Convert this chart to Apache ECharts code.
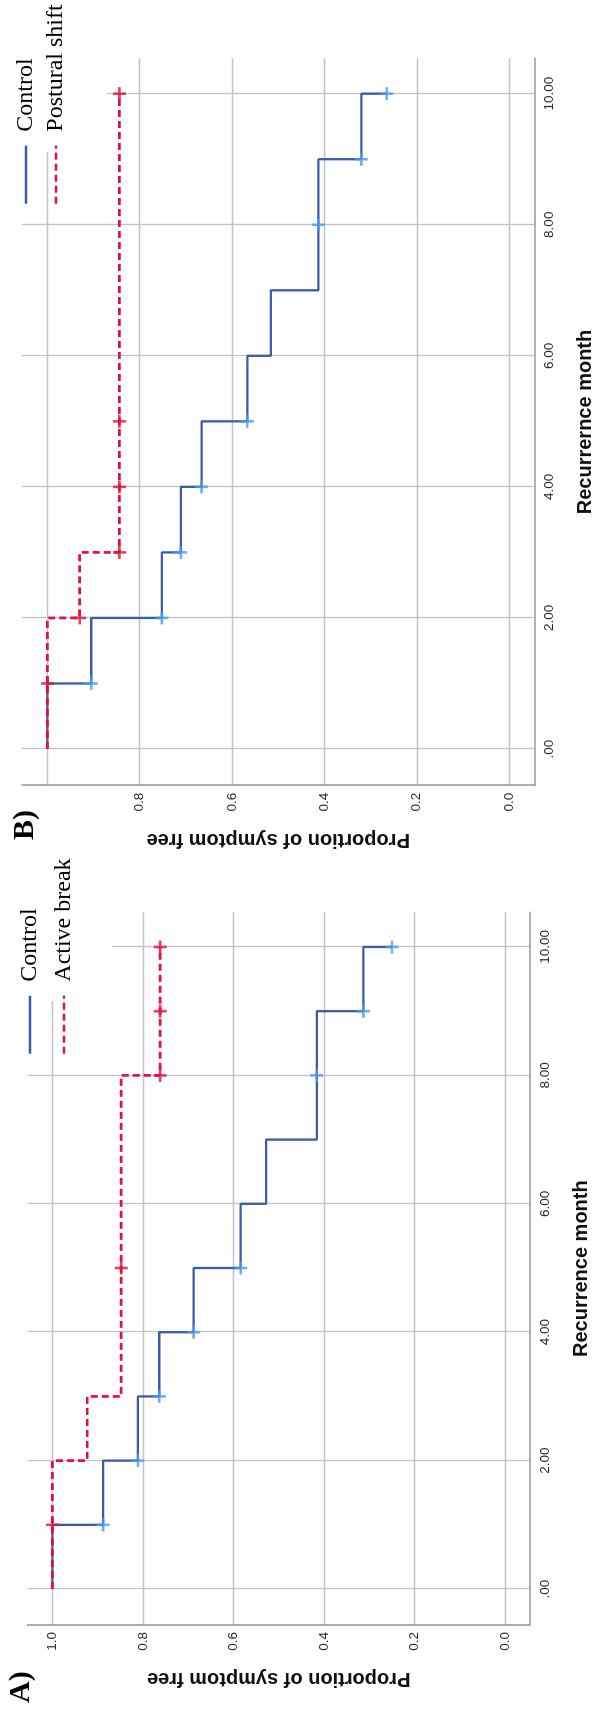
<!DOCTYPE html>
<html>
<head>
<meta charset="utf-8">
<title>Kaplan-Meier curves</title>
<script src="https://cdn.jsdelivr.net/npm/echarts@6/dist/echarts.min.js"></script>
<style>
  html, body { margin: 0; padding: 0; width: 604px; height: 1719px; overflow: hidden; background: #fff; }
  /* the figure is laid out landscape and turned a quarter turn to the left */
  #main {
    position: absolute; left: 0; top: 0;
    width: 1719px; height: 604px;
    transform-origin: 0 0;
    transform: translateY(1719px) rotate(-90deg);
  }
</style>
</head>
<body>
<div id="main"></div>
<script>
// tick values
const monthTicks = [0, 2, 4, 6, 8, 10]
const propTicksA = [0, 0.2, 0.4, 0.6, 0.8, 1]
const propTicksB = [0, 0.2, 0.4, 0.6, 0.8]
const propGrid = [0, 0.2, 0.4, 0.6, 0.8, 1]

// A) Control vs Active break  (month of drop, proportion after drop)
const aCtrlMonths = [0, 1, 2, 3, 4, 5, 6, 7, 9, 10]
const aCtrlSurv = [1.0, 0.888, 0.811, 0.764, 0.688, 0.584, 0.528, 0.416, 0.313, 0.25]
const aCtrlCensor = [1, 2, 3, 4, 5, 8, 9, 10]
const aActMonths = [0, 2, 3, 8, 10]
const aActSurv = [1.0, 0.923, 0.848, 0.762, 0.762]
const aActCensor = [1, 5, 8, 9, 10]

// B) Control vs Postural shift
const bCtrlMonths = [0, 1, 2, 3, 4, 5, 6, 7, 9, 10]
const bCtrlSurv = [1.0, 0.905, 0.752, 0.711, 0.666, 0.567, 0.516, 0.413, 0.320, 0.265]
const bCtrlCensor = [1, 2, 3, 4, 5, 8, 9, 10]
const bPostMonths = [0, 2, 3, 10]
const bPostSurv = [1.0, 0.930, 0.844, 0.844]
const bPostCensor = [1, 2, 3, 4, 5, 10]

const BLUE = '#3c5ca9'
const BLUE_MARK = '#4b9cf2'
const RED = '#e3103d'
const PLUS = 'path://M4 0H6V4H10V6H6V10H4V6H0V4H4Z'

// value of the step curve at month t
function survAt (months, surv, t) {
  let v = surv[0]
  for (let i = 0; i < months.length; i++) {
    if (months[i] <= t) v = surv[i]
  }
  return v
}
function pairs (months, surv) {
  return months.map((m, i) => [m, surv[i]])
}
function censorPts (months, surv, censor) {
  return censor.map(t => [t, survAt(months, surv, t)])
}

const nameStyle = { fontFamily: 'Liberation Sans', fontWeight: 'bold', fontSize: 20, color: '#111' }
const tickStyle = { fontFamily: 'Liberation Sans', fontSize: 13.5, color: '#2a2a2a' }

function monthAxis (gridIndex, name) {
  return {
    gridIndex: gridIndex,
    type: 'value',
    min: -0.56,
    max: 10.54,
    name: name,
    nameLocation: 'middle',
    nameGap: 41,
    nameTextStyle: nameStyle,
    axisLine: { onZero: false, lineStyle: { color: '#999', width: 1.6 } },
    axisTick: { show: false, customValues: monthTicks },
    axisLabel: Object.assign({
      customValues: monthTicks,
      margin: 8,
      formatter: v => (v === 0 ? '.00' : v.toFixed(2))
    }, tickStyle),
    splitLine: { show: true, lineStyle: { color: '#c3c3c3', width: 1.3 } }
  }
}
function propAxis (gridIndex, labels) {
  return {
    gridIndex: gridIndex,
    type: 'value',
    min: -0.055,
    max: 1.055,
    name: 'Proportion of symptom free',
    nameLocation: 'middle',
    nameRotate: 90,
    nameGap: 44,
    nameTextStyle: nameStyle,
    axisLine: { show: true, onZero: false, lineStyle: { color: '#999', width: 1.6 } },
    axisTick: { show: false, customValues: propGrid },
    axisLabel: Object.assign({
      customValues: labels,
      margin: 7,
      formatter: v => v.toFixed(1)
    }, tickStyle),
    splitLine: { show: true, lineStyle: { color: '#c3c3c3', width: 1.3 } }
  }
}
function stepLine (name, idx, data, color, dashed) {
  return {
    name: name,
    type: 'line',
    xAxisIndex: idx,
    yAxisIndex: idx,
    step: 'end',
    symbol: 'none',
    data: data,
    lineStyle: dashed ? { color: color, width: 2.7, type: [7, 4] } : { color: color, width: 2.3 },
    itemStyle: { color: color },
    z: 3
  }
}
function censorMarks (idx, data, color) {
  return {
    type: 'scatter',
    xAxisIndex: idx,
    yAxisIndex: idx,
    symbol: PLUS,
    symbolSize: 13,
    data: data,
    itemStyle: { color: color },
    z: 4
  }
}
function legendBox (left, top, gap, names) {
  return {
    orient: 'vertical',
    left: left,
    top: top,
    data: names,
    itemWidth: 58,
    itemHeight: 14,
    itemGap: gap,
    selectedMode: false,
    itemStyle: { opacity: 0 },
    lineStyle: { width: 2.6 },
    textStyle: { fontFamily: 'Liberation Serif', fontSize: 24, color: '#000', padding: [0, 0, 0, 9] }
  }
}

const chart = echarts.init(document.getElementById('main'))
chart.setOption({
  backgroundColor: '#fff',
  animation: false,
  grid: [
    { left: 94, top: 27.5, width: 712.7, height: 502.5 },
    { left: 933.3, top: 22, width: 727.4, height: 512.5 }
  ],
  xAxis: [monthAxis(0, 'Recurrence month'), monthAxis(1, 'Recurrernce month')],
  yAxis: [propAxis(0, propTicksA), propAxis(1, propTicksB)],
  legend: [
    legendBox(659, 13, 10, ['Control', 'Active break']),
    legendBox(1509, 9, 6, ['Control', 'Postural shift'])
  ],
  graphic: [
    // white legend panels hide the grid lines under the legend text
    { type: 'rect', left: 718, top: 27.5, shape: { width: 89, height: 84.5 }, style: { fill: '#fff' }, z: 1 },
    { type: 'rect', left: 1567, top: 22, shape: { width: 94, height: 85 }, style: { fill: '#fff' }, z: 1 },
    { type: 'text', left: 16, top: 6, style: { text: 'A)', font: 'bold 30px "Liberation Serif"', fill: '#000' }, z: 5 },
    { type: 'text', left: 879, top: 10, style: { text: 'B)', font: 'bold 30px "Liberation Serif"', fill: '#000' }, z: 5 }
  ],
  series: [
    stepLine('Control', 0, pairs(aCtrlMonths, aCtrlSurv), BLUE, false),
    stepLine('Active break', 0, pairs(aActMonths, aActSurv), RED, true),
    censorMarks(0, censorPts(aCtrlMonths, aCtrlSurv, aCtrlCensor), BLUE_MARK),
    censorMarks(0, censorPts(aActMonths, aActSurv, aActCensor), RED),
    stepLine('Control', 1, pairs(bCtrlMonths, bCtrlSurv), BLUE, false),
    stepLine('Postural shift', 1, pairs(bPostMonths, bPostSurv), RED, true),
    censorMarks(1, censorPts(bCtrlMonths, bCtrlSurv, bCtrlCensor), BLUE_MARK),
    censorMarks(1, censorPts(bPostMonths, bPostSurv, bPostCensor), RED)
  ]
})
</script>
</body>
</html>
